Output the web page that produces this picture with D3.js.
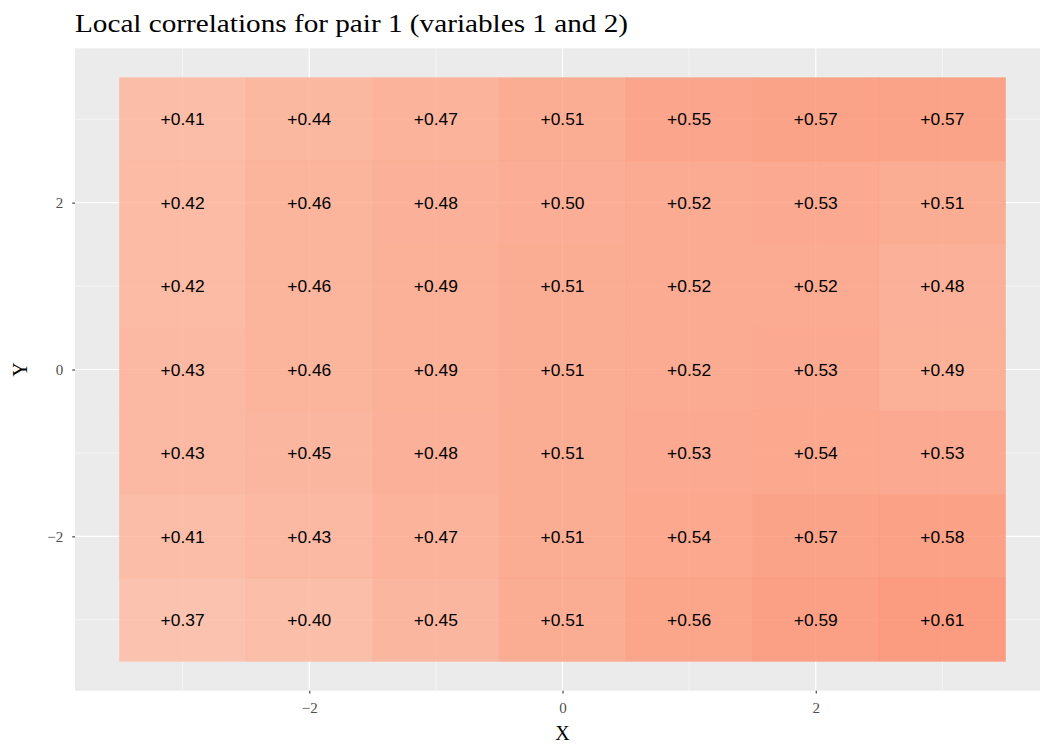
<!DOCTYPE html>
<html>
<head>
<meta charset="utf-8">
<script src="https://cdn.jsdelivr.net/npm/d3@7"></script>
<style>
  html, body { margin: 0; padding: 0; background: #fff; }
  svg { display: block; }
</style>
</head>
<body>
<svg id="chart" width="1040" height="745"></svg>
<script>
// ---- data ----
const xValues = [-3, -2, -1, 0, 1, 2, 3];
const yValues = [3, 2, 1, 0, -1, -2, -3];
// rows from top (y = 3) to bottom (y = -3), columns x = -3..3
const corrRows = [
  [0.41, 0.44, 0.47, 0.51, 0.55, 0.57, 0.57],
  [0.42, 0.46, 0.48, 0.50, 0.52, 0.53, 0.51],
  [0.42, 0.46, 0.49, 0.51, 0.52, 0.52, 0.48],
  [0.43, 0.46, 0.49, 0.51, 0.52, 0.53, 0.49],
  [0.43, 0.45, 0.48, 0.51, 0.53, 0.54, 0.53],
  [0.41, 0.43, 0.47, 0.51, 0.54, 0.57, 0.58],
  [0.37, 0.40, 0.45, 0.51, 0.56, 0.59, 0.61]
];
const majorTicks = [-2, 0, 2];
const minorTicks = [-3, -1, 1, 3];
const titleText = "Local correlations for pair 1 (variables 1 and 2)";

// ---- layout ----
const panel = { left: 75, right: 1050, top: 48.3, bottom: 690.7 };
const svg = d3.select("#chart");

const x = d3.scaleLinear().domain([-3.85, 3.85]).range([panel.left, panel.right]);
const y = d3.scaleLinear().domain([-3.85, 3.85]).range([panel.bottom, panel.top]);
const color = v => d3.interpolateLab("#ffffff", "#ff0000")(v);

const cells = [];
corrRows.forEach((row, i) => row.forEach((v, j) => cells.push({ x: xValues[j], y: yValues[i], v })));

// panel background
svg.append("rect")
  .attr("x", panel.left).attr("y", panel.top)
  .attr("width", panel.right - panel.left).attr("height", panel.bottom - panel.top)
  .attr("fill", "#EBEBEB");

const grid = svg.append("g");
minorTicks.forEach(t => {
  grid.append("line").attr("x1", x(t)).attr("x2", x(t)).attr("y1", panel.top).attr("y2", panel.bottom)
    .attr("stroke", "#fff").attr("stroke-width", 0.55);
  grid.append("line").attr("y1", y(t)).attr("y2", y(t)).attr("x1", panel.left).attr("x2", panel.right)
    .attr("stroke", "#fff").attr("stroke-width", 0.55);
});
majorTicks.forEach(t => {
  grid.append("line").attr("x1", x(t)).attr("x2", x(t)).attr("y1", panel.top).attr("y2", panel.bottom)
    .attr("stroke", "#fff").attr("stroke-width", 1.1);
  grid.append("line").attr("y1", y(t)).attr("y2", y(t)).attr("x1", panel.left).attr("x2", panel.right)
    .attr("stroke", "#fff").attr("stroke-width", 1.1);
});

// tiles
svg.append("g").selectAll("rect").data(cells).join("rect")
  .attr("x", d => x(d.x - 0.5))
  .attr("y", d => y(d.y + 0.5))
  .attr("width", d => x(d.x + 0.5) - x(d.x - 0.5))
  .attr("height", d => y(d.y - 0.5) - y(d.y + 0.5))
  .attr("fill", d => color(d.v))
  .attr("fill-opacity", 0.8)
  .attr("stroke", d => color(d.v))
  .attr("stroke-opacity", 0.35)
  .attr("stroke-width", 0.6);

// labels
svg.append("g").selectAll("text").data(cells).join("text")
  .attr("x", d => x(d.x))
  .attr("y", d => y(d.y))
  .attr("dy", "0.36em")
  .attr("text-anchor", "middle")
  .attr("font-family", "'Liberation Sans', Arial, Helvetica, sans-serif")
  .attr("font-size", 17.4)
  .attr("fill", "#000")
  .text(d => (d.v >= 0 ? "+" : "") + d.v.toFixed(2));

// axes
const fmt = t => (t < 0 ? "\u2212" + Math.abs(t) : String(t));
const xAxis = d3.axisBottom(x).tickValues(majorTicks).tickSize(2.75).tickPadding(9).tickFormat(fmt);
const yAxis = d3.axisLeft(y).tickValues(majorTicks).tickSize(2.75).tickPadding(9).tickFormat(fmt);

const gx = svg.append("g").attr("transform", `translate(0,${panel.bottom})`).call(xAxis);
const gy = svg.append("g").attr("transform", `translate(${panel.left},0)`).call(yAxis);
[gx, gy].forEach(g => {
  g.select(".domain").remove();
  g.selectAll(".tick line").attr("stroke", "#333").attr("stroke-width", 1.1);
  g.selectAll(".tick text")
    .attr("fill", "#4D4D4D")
    .attr("font-family", "'Liberation Serif', 'DejaVu Serif', serif")
    .attr("font-size", 15);
});

// axis titles
svg.append("text")
  .attr("x", x(0)).attr("y", 740)
  .attr("text-anchor", "middle")
  .attr("font-family", "'Liberation Serif', 'DejaVu Serif', serif")
  .attr("font-size", 20)
  .text("X");
svg.append("text")
  .attr("transform", `translate(27,${y(0)}) rotate(-90)`)
  .attr("text-anchor", "middle")
  .attr("font-family", "'Liberation Serif', 'DejaVu Serif', serif")
  .attr("font-size", 20)
  .text("Y");

// title
svg.append("text")
  .attr("x", 75).attr("y", 32)
  .attr("font-family", "'Liberation Serif', 'DejaVu Serif', serif")
  .attr("font-size", 25)
  .attr("textLength", 553)
  .attr("lengthAdjust", "spacingAndGlyphs")
  .text(titleText);
</script>
</body>
</html>
